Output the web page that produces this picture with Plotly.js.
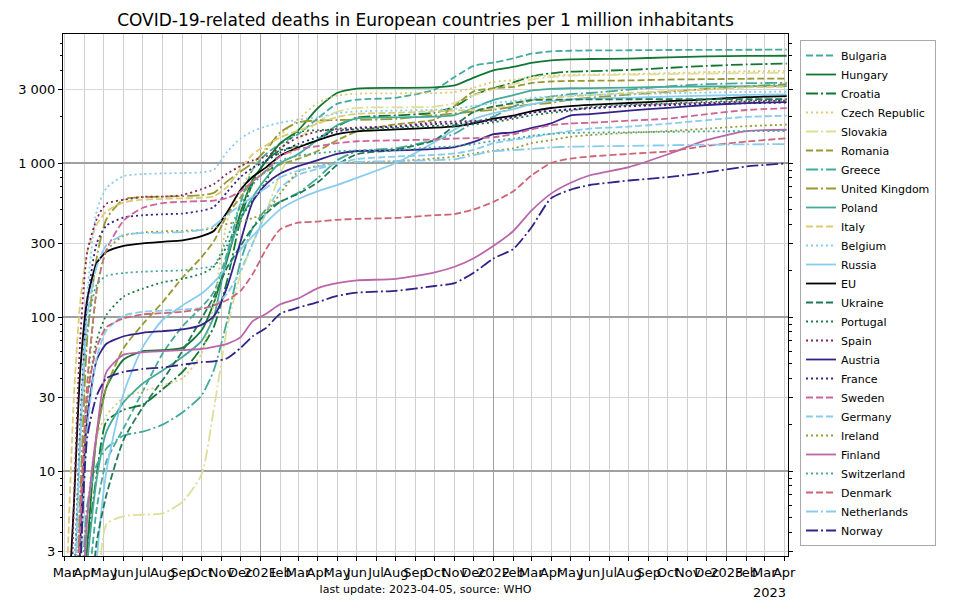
<!DOCTYPE html>
<html>
<head>
<meta charset="utf-8">
<script src="https://cdn.plot.ly/plotly-3.0.1.min.js"></script>
<style>
  html, body { margin: 0; padding: 0; background: #fff; }
  #myDiv { width: 960px; height: 608px; }
</style>
</head>
<body>
<div id="myDiv"></div>
<script>
// sample dates (cumulative deaths per 1M at these dates)
const dates = ['2020-03-05','2020-03-15','2020-03-25','2020-04-05','2020-04-20','2020-05-05',
  '2020-06-01','2020-07-01','2020-08-01','2020-09-01','2020-10-01','2020-10-20','2020-11-10',
  '2020-12-01','2020-12-20','2021-01-10','2021-02-01','2021-03-01','2021-04-01','2021-05-01',
  '2021-06-01','2021-08-01','2021-10-01','2021-11-01','2021-12-01','2022-01-01','2022-02-01',
  '2022-03-01','2022-04-01','2022-05-01','2022-06-01','2022-08-01','2022-10-01','2022-12-01',
  '2023-02-01','2023-04-05'];

const countries = ['Bulgaria','Hungary','Croatia','Czech Republic','Slovakia','Romania','Greece',
  'United Kingdom','Poland','Italy','Belgium','Russia','EU','Ukraine','Portugal','Spain','Austria',
  'France','Sweden','Germany','Ireland','Finland','Switzerland','Denmark','Netherlands','Norway'];

const bulgaria = [0.01,0.1,0.4,1.4,5.8,11.6,19,33,58,87,116,145,261,551,913,1145,1333,1536,1957,2420,2580,2652,3000,3623,4275,4493,4783,5130,5304,5362,5384,5400,5420,5430,5440,5450];
const hungary = [0.01,0.1,1,3.3,17.6,35,53,60,61,63,82,123,236,477,780,1026,1344,1626,2277,2851,3046,3077,3097,3190,3590,4000,4205,4472,4646,4718,4738,4769,4851,4923,4960,4975];
const croatia = [0.01,0.05,0.25,3,9.6,21,25,27,34,44,63,86,173,432,741,1037,1210,1284,1407,1728,1975,2037,2123,2321,2765,3062,3333,3654,3827,3926,3951,4025,4148,4272,4370,4420];
const czechRepublic = [0.01,0.05,0.3,5.6,17,23,30,33,36,40,58,121,421,682,916,1262,1523,1916,2467,2738,2822,2837,2846,2888,3084,3364,3458,3626,3701,3738,3748,3785,3832,3897,3944,3972];
const slovakia = [0.01,0.02,0.2,0.8,1.5,4.5,5.1,5.2,5.3,6.3,9.5,25,85,190,300,480,850,1400,1850,2150,2280,2300,2320,2450,2750,3020,3250,3480,3620,3700,3720,3750,3780,3810,3840,3860];
const romania = [0.01,0.05,0.8,5,17,35,63,90,125,180,245,310,460,600,760,880,980,1063,1198,1406,1599,1786,1917,2344,2917,3063,3125,3307,3385,3411,3422,3438,3484,3505,3526,3536];
const greece = [0.001,0.05,1,6,11,14,17,18,20,24,31,45,95,230,380,500,560,640,800,1040,1190,1250,1410,1550,1830,2000,2330,2550,2700,2800,2850,3000,3150,3250,3300,3320];
const unitedKingdom = [0.02,0.5,7,73,246,433,582,600,605,610,618,640,760,880,1000,1215,1582,1836,1891,1903,1907,1936,2043,2099,2161,2218,2324,2403,2463,2582,2657,2780,2900,3030,3150,3250];
const poland = [0.001,0.03,0.3,2.5,9,18,28,37,45,55,70,100,250,430,600,800,1000,1140,1420,1760,1950,1980,2000,2050,2280,2570,2760,2950,3030,3060,3070,3090,3120,3140,3150,3160];
const italy = [2.5,30,125,265,400,485,555,578,585,590,595,607,700,920,1140,1305,1465,1625,1805,1990,2090,2120,2170,2190,2220,2280,2430,2570,2650,2710,2760,2850,2930,3000,3100,3130];
const belgium = [0.01,0.35,15.5,142,494,689,823,848,856,861,870,904,1183,1443,1609,1730,1826,1913,1983,2104,2165,2191,2217,2252,2348,2461,2522,2643,2713,2748,2765,2800,2835,2870,2895,2910];
const russia = [0.001,0.002,0.007,0.3,2.7,10,32,64,96,119,142,168,212,274,336,411,500,582,658,719,800,1000,1370,1650,1930,2110,2240,2400,2520,2590,2620,2650,2700,2740,2770,2790];
const eu = [1,6,45,130,225,265,290,301,308,315,335,362,480,670,815,937,1116,1261,1406,1540,1607,1652,1696,1730,1808,1942,2031,2165,2277,2344,2388,2455,2522,2589,2679,2723];
const ukraine = [0.001,0.005,0.1,0.8,3.5,7,16,26,39,60,98,135,210,290,380,470,560,630,750,970,1140,1220,1410,1750,2150,2330,2450,2560,2580,2585,2590,2595,2600,2600,2600,2600];
const portugal = [0.001,0.01,3.2,29,71,103,136,153,168,177,191,212,291,437,573,757,1214,1583,1636,1648,1652,1689,1743,1757,1786,1840,1937,2039,2117,2184,2311,2398,2437,2495,2540,2580];
const spain = [0.1,6,72,265,435,545,577,603,605,620,677,728,853,957,1040,1104,1255,1468,1606,1666,1700,1734,1840,1860,1874,1900,1980,2120,2180,2220,2265,2360,2415,2460,2510,2540];
const austria = [0.01,0.1,3.4,22,53,67,75,79,81,83,89,101,157,309,562,730,854,955,1045,1146,1197,1208,1236,1270,1371,1539,1584,1685,1809,2034,2079,2191,2281,2382,2450,2490];
const france = [0.05,1.4,20,124,303,392,443,458,465,470,490,517,649,812,929,1037,1169,1331,1471,1600,1677,1720,1792,1809,1831,1892,2000,2123,2177,2238,2270,2338,2377,2415,2445,2470];
const sweden = [0.01,0.2,4,38,152,274,423,512,550,560,566,570,592,654,760,894,1106,1231,1288,1346,1385,1404,1423,1442,1452,1471,1538,1654,1760,1808,1827,1885,1942,2077,2211,2270];
const germany = [0.01,0.1,1.9,19,55,82,102,108,110,112,114,118,142,201,301,476,687,837,916,994,1060,1102,1129,1154,1217,1347,1416,1470,1548,1614,1675,1723,1801,1898,1994,2030];
const ireland = [0.01,0.1,1.8,32,149,269,337,354,360,363,368,378,402,418,439,480,633,878,959,1000,1010,1027,1071,1102,1153,1204,1245,1347,1408,1480,1520,1571,1612,1673,1735,1776];
const finland = [0.01,0.05,0.5,5,18,44,57,59,60,61,62,64,67,74,94,105,121,132,154,166,173,177,195,212,241,290,362,489,633,742,833,941,1140,1412,1612,1645];
const switzerland = [0.05,1.6,17,83,163,185,193,197,199,201,208,215,326,535,721,895,1035,1116,1157,1192,1209,1215,1267,1285,1326,1395,1442,1500,1547,1570,1575,1585,1595,1605,1610,1615];
const denmark = [0.01,0.3,5.5,31,64,86,98,104,106,108,113,119,129,148,190,276,371,410,417,428,434,440,459,466,500,560,655,828,1000,1069,1103,1147,1190,1293,1379,1448];
const netherlands = [0.01,1.1,16,102,215,293,342,351,353,356,368,391,460,534,603,690,805,891,948,994,1017,1029,1043,1057,1126,1195,1213,1236,1264,1276,1282,1293,1305,1316,1322,1328];
const norway = [0.01,0.1,2.2,16.6,31,40,44,46,47,49,51,51.5,54,63,75,85,105,115,125,137,144,148,159,166,194,240,277,380,590,670,720,770,810,870,950,995];

const values = [bulgaria,hungary,croatia,czechRepublic,slovakia,romania,greece,unitedKingdom,poland,
  italy,belgium,russia,eu,ukraine,portugal,spain,austria,france,sweden,germany,ireland,finland,
  switzerland,denmark,netherlands,norway];

// y axis labels
const yTicks = [3,10,30,100,300,1000,3000];
const yTickText = ['3','10','30','100','300','1 000','3 000'];
const yMinor = [4,5,6,7,8,9,20,40,50,60,70,80,90,200,400,500,600,700,800,900,2000,4000,5000,6000];
const monthNames = ['Jan','Feb','Mar','Apr','May','Jun','Jul','Aug','Sep','Oct','Nov','Dec'];
const yearTicks = ['2021-01-01','2022-01-01','2023-01-01'];

// line styles (matplotlib-like dashes)
const DASH = '7px,3px', DOT = '2px,3px', DASHDOT = '12px,3px,2px,3px';
const styles = [
  ['#44aa99',DASH],['#117733','solid'],['#117733',DASHDOT],['#ddcc77',DOT],['#dede99',DASHDOT],
  ['#999933',DASH],['#44aa99',DASHDOT],['#999933',DASHDOT],['#44aa99','solid'],['#ddcc77',DASH],
  ['#88ccee',DOT],['#88ccee','solid'],['#000000','solid'],['#1f7a55',DASH],['#1f7a44',DOT],
  ['#882255',DOT],['#332288','solid'],['#332288',DOT],['#cc6699',DASH],['#88ccee',DASH],
  ['#999933',DOT],['#bb66aa','solid'],['#44aa99',DOT],['#cc6677',DASH],['#88ccee',DASHDOT],
  ['#332288',DASHDOT]
];

// month ticks Mar 2020 .. Apr 2023
const xTicks = [], xTickText = [];
for (let y = 2020; y <= 2023; y++) {
  for (let m = 0; m < 12; m++) {
    if (y === 2020 && m < 2) continue;
    if (y === 2023 && m > 3) break;
    xTicks.push(`${y}-${String(m+1).padStart(2,'0')}-01`);
    xTickText.push(m === 0 ? String(y) : monthNames[m]);
  }
}

const xRange = ['2020-02-27','2023-04-07'];
const yRange = [0.448, 3.838];
const font = 'DejaVu Sans, sans-serif';

let data = [];
for (let i = 0; i < countries.length; i++) {
  data.push({
    x: dates,
    y: values[i],
    type: 'scatter',
    mode: 'lines',
    name: countries[i],
    hoverinfo: 'none',
    line: {color: styles[i][0], dash: styles[i][1], width: 1.8, shape: 'spline', smoothing: 0.6},
  });
}
// empty helper traces so the overlay axes (minor ticks / major grid) get drawn
data.push({x: [], y: [], xaxis: 'x2', yaxis: 'y2', type: 'scatter', mode: 'lines', showlegend: false, hoverinfo: 'none'});
data.push({x: [], y: [], xaxis: 'x', yaxis: 'y3', type: 'scatter', mode: 'lines', showlegend: false, hoverinfo: 'none'});

const layout = {
  width: 960,
  height: 608,
  font: {family: font, color: '#000', size: 13},
  paper_bgcolor: '#fff',
  plot_bgcolor: '#fff',
  margin: {l: 63, r: 172, t: 34, b: 52, pad: 0, autoexpand: false},
  title: {
    text: 'COVID-19-related deaths in European countries per 1 million inhabitants',
    font: {size: 17, family: font},
    x: 0.5, xref: 'paper', xanchor: 'center',
    y: 1 - 20/608, yref: 'container', yanchor: 'middle',
  },
  showlegend: true,
  legend: {
    x: 1.0166, y: 0.9885, xanchor: 'left', yanchor: 'top',
    bgcolor: '#fff', bordercolor: '#aaaaaa', borderwidth: 1,
    font: {size: 11, family: font},
    tracegroupgap: 0,
  },
  xaxis: {
    type: 'date',
    range: xRange,
    tickmode: 'array',
    tickvals: xTicks,
    ticktext: xTickText,
    tickangle: 0,
    ticks: 'outside', ticklen: 4, tickcolor: '#000', tickwidth: 1,
    showgrid: true, gridcolor: '#cfcfcf', gridwidth: 1,
    showline: true, linecolor: '#000', linewidth: 1, mirror: true,
    zeroline: false,
    tickfont: {size: 13},
    title: {text: 'last update: 2023-04-05, source: WHO', font: {size: 11}, standoff: 6},
  },
  xaxis2: {
    type: 'date', overlaying: 'x', range: xRange,
    tickmode: 'array', tickvals: yearTicks,
    showticklabels: false, ticks: '',
    showgrid: true, gridcolor: '#a0a0a0', gridwidth: 1.3,
    showline: false, zeroline: false,
  },
  yaxis: {
    type: 'log',
    range: yRange,
    tickmode: 'array',
    tickvals: yTicks,
    ticktext: yTickText,
    ticks: 'outside', ticklen: 4, tickcolor: '#000', tickwidth: 1,
    showgrid: true, gridcolor: '#d6d6d6', gridwidth: 1,
    showline: true, linecolor: '#000', linewidth: 1, mirror: 'ticks',
    zeroline: false,
    tickfont: {size: 13},
  },
  yaxis2: {
    type: 'log', overlaying: 'y', range: yRange,
    tickmode: 'array', tickvals: yMinor,
    showticklabels: false,
    ticks: 'outside', ticklen: 2.5, tickcolor: '#000', tickwidth: 1,
    showgrid: false, showline: false, zeroline: false, mirror: 'ticks',
  },
  yaxis3: {
    type: 'log', overlaying: 'y', range: yRange,
    tickmode: 'array', tickvals: [10,100,1000],
    showticklabels: false, ticks: '',
    showgrid: true, gridcolor: '#a0a0a0', gridwidth: 1.3,
    showline: false, zeroline: false,
  },
  annotations: [{
    text: '2023', xref: 'paper', yref: 'paper',
    x: 1, y: -0.069, xanchor: 'right', yanchor: 'middle',
    showarrow: false, font: {size: 13},
  }],
};

const config = {displayModeBar: false, staticPlot: true};
Plotly.newPlot('myDiv', data, layout, config);
</script>
</body>
</html>
